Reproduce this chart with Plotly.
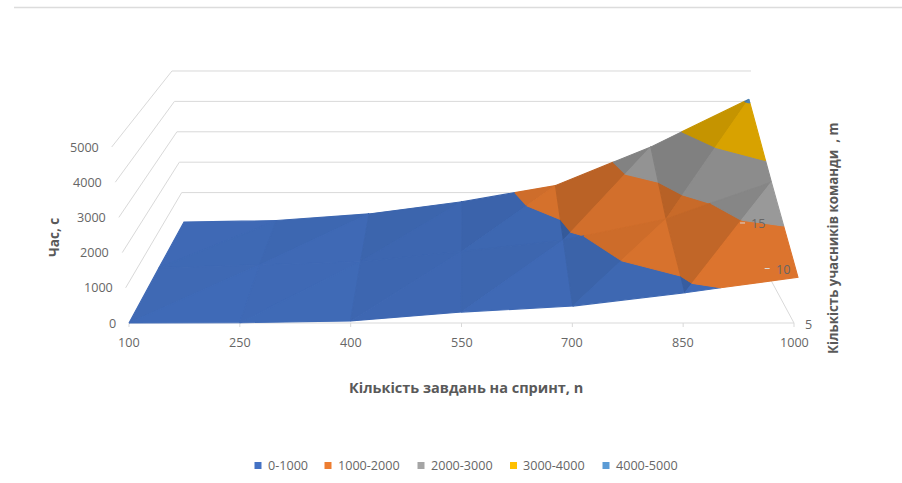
import plotly.graph_objects as go

# Sprint size (categories), team size (depth rows, front to back), time in seconds
tasks = [100, 250, 400, 550, 700, 850, 1000]
team_sizes = [5, 10, 15]
time_team_5 = [0, 5, 60, 310, 480, 860, 1300]
time_team_10 = [20, 110, 210, 520, 870, 1520, 2650]
time_team_15 = [30, 80, 300, 700, 1230, 2500, 4070]
time_rows = [time_team_5, time_team_10, time_team_15]

z_ticks = [0, 1000, 2000, 3000, 4000, 5000]
z_max = 5000
band_names = ["0-1000", "1000-2000", "2000-3000", "3000-4000", "4000-5000"]
band_colors = [(68, 114, 196), (237, 125, 49), (165, 165, 165), (255, 192, 0), (91, 155, 213)]

TEXT = "#666666"
TITLE = "#595959"
GRID = "#d9d9d9"
FONT = "Open Sans"


def project(col, row, t):
    """Oblique perspective of the box onto the page; col and row are grid indices."""
    u = col / (len(tasks) - 1)
    v = row / (len(team_sizes) - 1)
    w = t / z_max
    px = (129 + 665 * u + 91.1 * v - 22.6 * w) / (1 + 0.196 * v - 0.0475 * w)
    py = (323 - 56.3 * v - 176 * w - 5.8 * v * w) / (1 + 0.196 * v)
    return px, py


def clip_band(tri, low, high):
    """Clip a triangle of (col, row, t) points to the slab low <= t <= high."""
    def clip(poly, keep, level):
        out = []
        for i, p in enumerate(poly):
            q = poly[(i + 1) % len(poly)]
            if keep(p[2]):
                out.append(p)
            if keep(p[2]) != keep(q[2]):
                s = (level - p[2]) / (q[2] - p[2])
                out.append(tuple(p[k] + s * (q[k] - p[k]) for k in range(3)))
        return out
    poly = clip(list(tri), lambda z: z >= low, low)
    if poly:
        poly = clip(poly, lambda z: z <= high, high)
    return poly


def shade(rgb, du, dv):
    """Facet brightness from its slope across the grid."""
    f = max(0.6, min(1.0, 0.93 - 0.000125 * du + 0.00004 * dv))
    return "rgb({},{},{})".format(*[round(c * f) for c in rgb])


def add_polyline(fig, pts, color=GRID, width=1):
    xs = [p[0] for p in pts]
    ys = [p[1] for p in pts]
    fig.add_trace(go.Scatter(x=xs, y=ys, mode="lines", line=dict(color=color, width=width),
                             hoverinfo="skip", showlegend=False))


fig = go.Figure()
last_col = len(tasks) - 1
last_row = len(team_sizes) - 1

# Gridlines on the side and back walls
for t in z_ticks[1:]:
    add_polyline(fig, [project(0, 0, t), project(0, last_row, t), project(last_col, last_row, t)])
add_polyline(fig, [project(0, last_row, 0), project(last_col, last_row, 0)])

# Floor edges and category ticks
add_polyline(fig, [project(0, 0, 0), project(last_col, 0, 0), project(last_col, last_row, 0)])
for c in range(len(tasks)):
    px, py = project(c, 0, 0)
    add_polyline(fig, [(px, py), (px, py + 4)])

# Surface: each grid cell is two facets, cut along the height bands, back rows first
for r in range(last_row - 1, -1, -1):
    for c in range(last_col):
        a = (c, r, time_rows[r][c])
        b = (c + 1, r, time_rows[r][c + 1])
        d = (c + 1, r + 1, time_rows[r + 1][c + 1])
        e = (c, r + 1, time_rows[r + 1][c])
        facets = [
            ((a, e, d), d[2] - e[2], e[2] - a[2]),
            ((a, b, d), b[2] - a[2], d[2] - b[2]),
        ]
        for tri, du, dv in facets:
            for k, rgb in enumerate(band_colors):
                poly = clip_band(tri, k * 1000, (k + 1) * 1000)
                if len(poly) < 3:
                    continue
                pts = [project(*p) for p in poly]
                pts.append(pts[0])
                color = shade(rgb, du, dv)
                fig.add_trace(go.Scatter(
                    x=[p[0] for p in pts], y=[p[1] for p in pts], mode="lines",
                    fill="toself", fillcolor=color, line=dict(color=color, width=1.1),
                    hoverinfo="skip", showlegend=False))

annotations = []


def label(x, y, text, size=12.6, color=TEXT, anchor="center", angle=0, bold=False):
    annotations.append(dict(
        x=x, y=y, xref="x", yref="y", text=f"<b>{text}</b>" if bold else text,
        showarrow=False, xanchor=anchor, yanchor="middle", textangle=angle,
        font=dict(family=FONT, size=size, color=color)))


# Tick labels on the three axes
for c, n in enumerate(tasks):
    px, py = project(c, 0, 0)
    label(px, py + 19, str(n))
for t in z_ticks:
    px, py = project(0, 0, t)
    label(px - 11, py, str(t), anchor="right")
for r, m in enumerate(team_sizes):
    px, py = project(last_col, r, 0)
    if r > 0:
        add_polyline(fig, [(px, py), (px + 5, py)])
    label(px + 9, py + 1, str(m), anchor="left")

# Axis titles
label(466, 387, "Кількість завдань на спринт, n", size=14.5, color=TITLE, bold=True)
label(54, 238, "Час, с", size=13.5, color=TITLE, angle=-90, bold=True)
label(833, 238, "Кількість учасників команди  , m", size=13.3, color=TITLE, angle=-90, bold=True)

# Legend row
legend_x = [258, 328, 421, 513.5, 606]
for name, rgb, lx in zip(band_names, band_colors, legend_x):
    fig.add_trace(go.Scatter(
        x=[lx], y=[465.5], mode="markers",
        marker=dict(symbol="square", size=7, color="rgb({},{},{})".format(*rgb)),
        hoverinfo="skip", showlegend=False))
    label(lx + 7.5, 465.5, name, anchor="left")

fig.update_layout(
    width=902, height=483, margin=dict(l=0, r=0, t=0, b=0),
    paper_bgcolor="white", plot_bgcolor="white", showlegend=False,
    xaxis=dict(range=[0, 902], visible=False, fixedrange=True),
    yaxis=dict(range=[483, 0], visible=False, fixedrange=True),
    annotations=annotations,
    shapes=[dict(type="line", xref="x", yref="y", x0=14, x1=902, y0=7.5, y1=7.5,
                 line=dict(color="#dcdcdc", width=1.5))],
)

fig.write_html("out.html")
